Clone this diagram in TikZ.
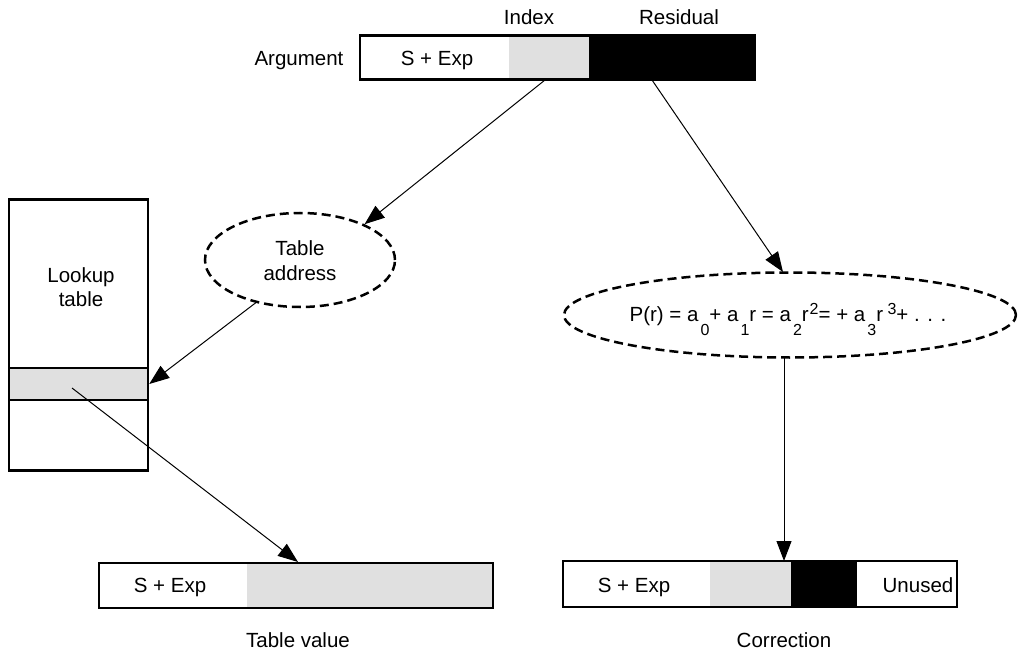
\documentclass[tikz,border=0pt]{standalone}
\usepackage{fontspec}
\setmainfont{Liberation Sans}
\usetikzlibrary{shapes.geometric,arrows.meta,calc}
\definecolor{lgray}{HTML}{E0E0E0}
\newcommand{\psub}[1]{\kern2pt\raisebox{-14pt}{\fontsize{16}{16}\selectfont #1}}
\newcommand{\psup}[1]{\kern1pt\raisebox{7pt}{\fontsize{16}{16}\selectfont #1}}
\begin{document}
\begin{tikzpicture}[x=1pt,y=-1pt, font=\fontsize{20.5}{25}\selectfont,
 seg/.style={rectangle, inner sep=0pt, outer sep=0pt, minimum height=44pt},
 frame/.style={draw, line width=2.5pt},
 dashell/.style={ellipse, draw, dash pattern=on 9pt off 5pt, line width=2.5pt, inner sep=0pt},
 conn/.style={line width=1pt, -{Triangle[length=20pt,width=15pt]}},
 lbl/.style={inner sep=0pt, anchor=base}]
\useasboundingbox (0,0) rectangle (1018,658);

% Argument bar
\node[seg, minimum width=149pt] (argS) at (434.5,57.5) {};
\node[seg, minimum width=80pt, fill=lgray] (argI) at (549,57.5) {};
\node[seg, minimum width=166pt, fill=black] (argR) at (672,57.5) {};
\draw[frame] (argS.north west) rectangle (argR.south east);
\node[lbl] (argt) at (437,66) {S + Exp};
\node[lbl] (argl) at (299,66) {Argument};
\node[lbl] (idxl) at (529,25) {Index};
\node[lbl] (resl) at (679,25) {Residual};

% Lookup table
\node[rectangle, frame, inner sep=0pt, minimum width=139pt, minimum height=271pt] (lut) at (78.5,335) {};
\node[rectangle, frame, fill=lgray, inner sep=0pt, minimum width=139pt, minimum height=32pt] (band) at (78.5,384) {};
\node[lbl] (lutl1) at (81,282) {Lookup};
\node[lbl] (lutl2) at (81,306) {table};

% Table address ellipse
\node[dashell, minimum width=190pt, minimum height=94pt] (taddr) at (300,260) {};
\node[lbl] (ta1) at (300,255) {Table};
\node[lbl] (ta2) at (300,280) {address};

% Polynomial ellipse
\node[dashell, minimum width=452pt, minimum height=85pt] (poly) at (790,315) {};
\node[lbl] (polyt) at (788,321)
 {P(r) = a\psub{0}+ a\psub{1}r = a\psub{2}r\psup{2}= + a\psub{3}r\,\psup{3}+ . . .};

% Table value bar
\node[seg, minimum width=148pt, minimum height=45pt] (tvS) at (173,585.5) {};
\node[seg, minimum width=246pt, minimum height=45pt, fill=lgray] (tvG) at (370,585.5) {};
\draw[frame] (tvS.north west) rectangle (tvG.south east);
\node[lbl] (tvt) at (170,592) {S + Exp};
\node[lbl] (tvl) at (298,647) {Table value};

% Correction bar
\node[seg, minimum width=147pt, minimum height=46pt] (cS) at (636.5,584) {};
\node[seg, minimum width=81pt, minimum height=46pt, fill=lgray] (cI) at (750.5,584) {};
\node[seg, minimum width=66pt, minimum height=46pt, fill=black] (cR) at (824,584) {};
\node[seg, minimum width=100pt, minimum height=46pt] (cU) at (907,584) {};
\draw[frame] (cS.north west) rectangle (cU.south east);
\node[lbl] (cSt) at (634,592) {S + Exp};
\node[lbl] (cUt) at (918,592) {Unused};
\node[lbl] (cl) at (784,647) {Correction};

% connector end points
\coordinate (idxout) at (545,80);
\coordinate (resout) at (652,80);
\coordinate (polyin) at (783,272);
\coordinate (polyout) at (784,358);
\coordinate (ctop) at (784,561);
\coordinate (bandout) at (72,388);
\coordinate (tvtop) at (298,562);

\draw[conn] (idxout) -- (taddr.29);
\draw[conn] (taddr.224) -- (band.east);
\draw[conn] (bandout) -- (tvtop);
\draw[conn] (resout) -- (polyin);
\draw[conn] (polyout) -- (ctop);
\end{tikzpicture}
\end{document}
